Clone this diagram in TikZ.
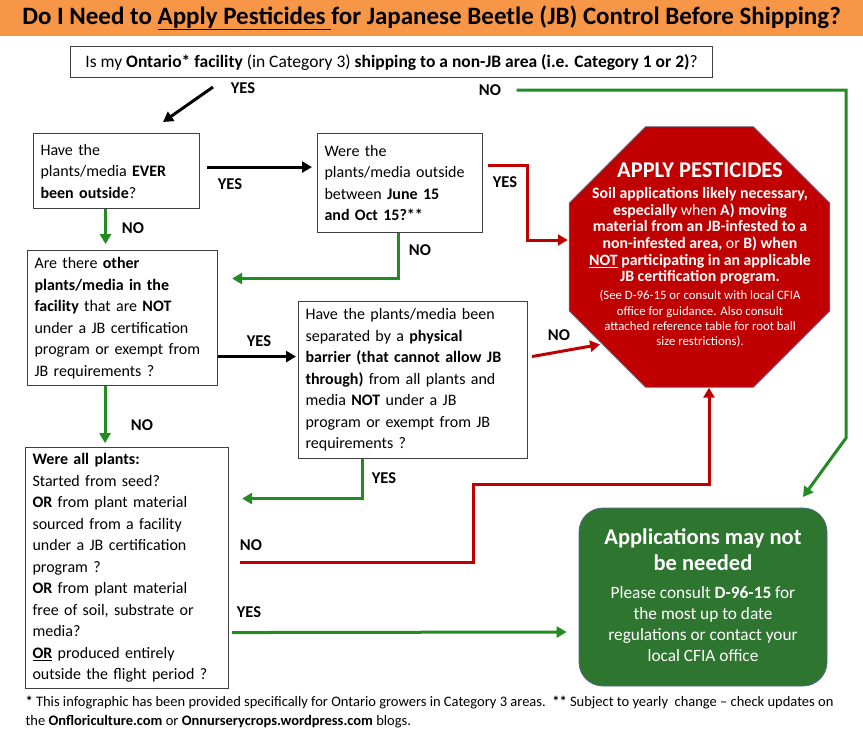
\documentclass[tikz,border=0pt]{standalone}
\usepackage{fontspec}
\setmainfont{Carlito}
\usepackage{xcolor}
\usetikzlibrary{arrows.meta, positioning, calc, shapes.geometric}
\definecolor{TitleOrange}{HTML}{F79646}
\definecolor{StopRed}{HTML}{C00000}
\definecolor{StopEdge}{HTML}{6A6F8E}
\definecolor{AppGreen}{HTML}{2E7530}
\definecolor{AppEdge}{HTML}{4A6A8A}
\definecolor{FlowGreen}{HTML}{228B22}
\definecolor{FlowRed}{HTML}{C00000}
\definecolor{BoxGray}{HTML}{404040}
\tikzset{
  qbox/.style={draw=BoxGray, line width=1.1pt, anchor=north west, align=left,
               inner xsep=7pt, font=\fontsize{16}{21.5}\selectfont},
  lbl/.style={font=\fontsize{16.5}{18}\selectfont\bfseries},
  flow/.style={line width=3pt, -{Triangle[length=10pt,width=11pt]}},
  barrow/.style={flow, black},
  garrow/.style={flow, FlowGreen},
  rarrow/.style={flow, FlowRed},
  whitetext/.style={text=white, align=center}
}

\begin{document}
\begin{tikzpicture}[x=1pt, y=-1pt]
\useasboundingbox (0,0) rectangle (863,740);

% title band
\fill[TitleOrange] (0,0) rectangle (863,36);
\node[font=\fontsize{25}{28}\selectfont\bfseries] (title) at (431.5,18)
  {Do I Need to \underline{Apply Pesticides }for Japanese Beetle (JB) Control Before Shipping?};

% questions
\node[qbox, minimum width=642pt, minimum height=31pt, font=\fontsize{17.5}{19}\selectfont] (q0) at (70,46)
  {Is my \textbf{Ontario* facility} (in Category 3) \textbf{shipping to a non-JB area (i.e. Category 1 or 2)}?};
\node[qbox, text width=152pt, minimum height=75pt] (q1) at (33,133)
  {Have the\\plants/media \textbf{EVER}\\\textbf{been outside}?};
\node[qbox, text width=151pt, minimum height=99pt] (q2) at (317,133)
  {Were the\\plants/media outside\\between \textbf{June 15}\\\textbf{and Oct 15?**}};
\node[qbox, text width=176pt, minimum height=135pt] (q3) at (27,250)
  {Are there \textbf{other}\\\textbf{plants/media in the}\\\textbf{facility} that are \textbf{NOT}\\under a JB certification\\program or exempt from\\JB requirements ?};
\node[qbox, text width=215pt, minimum height=157pt] (q4) at (298,301)
  {Have the plants/media been\\separated by a \textbf{physical}\\\textbf{barrier (that cannot allow JB}\\\textbf{through)} from all plants and\\media \textbf{NOT} under a JB\\program or exempt from JB\\requirements ?};
\node[qbox, text width=189pt, minimum height=241pt] (q5) at (25,447)
  {\textbf{Were all plants:}\\Started from seed?\\\textbf{OR} from plant material\\sourced from a facility\\under a JB certification\\program ?\\\textbf{OR} from plant material\\free of soil, substrate or\\media?\\\textbf{\underline{OR}} produced entirely\\outside the flight period ?};

% stop sign
\node[regular polygon, regular polygon sides=8, minimum size=282pt,
      fill=StopRed, draw=StopEdge, line width=0.8pt] (stop) at (699.5,257) {};
\node[whitetext, font=\fontsize{22.5}{26}\selectfont\bfseries] (stoptitle) at (700,170) {APPLY PESTICIDES};
\node[whitetext, font=\fontsize{15.8}{16.7}\selectfont\bfseries] (stopbody) at (700,236)
  {Soil applications likely necessary,\\especially \textmd{when} A) moving\\material from an JB-infested to a\\non-infested area, \textmd{or} B) when\\\underline{NOT} participating in an applicable\\JB certification program.};
\node[whitetext, font=\fontsize{12.8}{15.4}\selectfont] (stopnote) at (700,319)
  {(See D-96-15 or consult with local CFIA\\office for guidance. Also consult\\attached reference table for root ball\\size restrictions).};

% no pesticides box
\node[fill=AppGreen, draw=AppEdge, line width=0.8pt, rounded corners=24pt,
      minimum width=248pt, minimum height=178pt] (app) at (703,597) {};
\node[whitetext, font=\fontsize{22.5}{26}\selectfont\bfseries] (apptitle) at (703,550)
  {Applications may not\\be needed};
\node[whitetext, font=\fontsize{17.3}{20.8}\selectfont] (apptext) at (703,624)
  {Please consult \textbf{D-96-15} for\\the most up to date\\regulations or contact your\\local CFIA office};

% labels
\node[lbl] (lyes0) at (243,88) {YES};
\node[lbl] (lno0) at (490,90) {NO};
\node[lbl] (lyes1) at (230,184) {YES};
\node[lbl] (lyes2) at (505,182) {YES};
\node[lbl] (lno1) at (133,228) {NO};
\node[lbl] (lno2) at (420,250) {NO};
\node[lbl] (lyes3) at (259,341) {YES};
\node[lbl] (lno4) at (559,335) {NO};
\node[lbl] (lno3) at (142,425) {NO};
\node[lbl] (lyes4) at (384,478) {YES};
\node[lbl] (lno5) at (251,545) {NO};
\node[lbl] (lyes5) at (249,612) {YES};

% connectors
\coordinate (yesstart) at (213,87);
\coordinate (yesend) at (163,122);
\coordinate (noturn) at (846,438);
\coordinate (noend) at (803,497);
\draw[barrow] (yesstart) -- (yesend);
\draw[garrow] ($(lno0.east)+(12,0)$) -| (noturn) -- (noend);
\draw[barrow] ($(q1.east)+(7,-4)$) -- ($(q1.east -| q2.west)+(-5,-4)$);
\draw[rarrow] ($(q2.east)+(5,-17.5)$) -- ++(39,0) |- ($(stop.west)+(-1,-17)$);
\draw[garrow] ($(q2.south)+(-2,0)$) |- ($(q3.east)+(14,-39.5)$);
\draw[garrow] ($(q1.south)+(-11,0)$) -- ++(0,35);
\draw[barrow] ($(q3.east)+(0,38.5)$) -- ($(q3.east -| q4.west)+(-2,38.5)$);
\draw[rarrow] ($(q4.east)+(4,-23.5)$) -- ($(stop.south west)+(-7,-5)$);
\draw[garrow] ($(q3.south)+(-17.5,0)$) -- ++(0,57);
\draw[garrow] ($(q4.south)+(-51,0)$) |- ($(q5.east)+(13,-69.5)$);
\draw[rarrow] ($(q5.east)+(11,-5.5)$) -- ++(233,0) -- ++(0,-78) -| ($(stop.south)+(9.5,0)$);
\draw[garrow] ($(q5.east)+(3,64.5)$) -- ($(app.west)+(-12,35)$);

% footnote
\node[anchor=west, align=left, font=\fontsize{14.5}{19}\selectfont] (note) at (22,712)
  {\textbf{*} This infographic has been provided specifically for Ontario growers in Category 3 areas.\ \ \textbf{**} Subject to yearly\ \ change -- check updates on\\the \textbf{Onfloriculture.com} or \textbf{Onnurserycrops.wordpress.com} blogs.};
\end{tikzpicture}
\end{document}
